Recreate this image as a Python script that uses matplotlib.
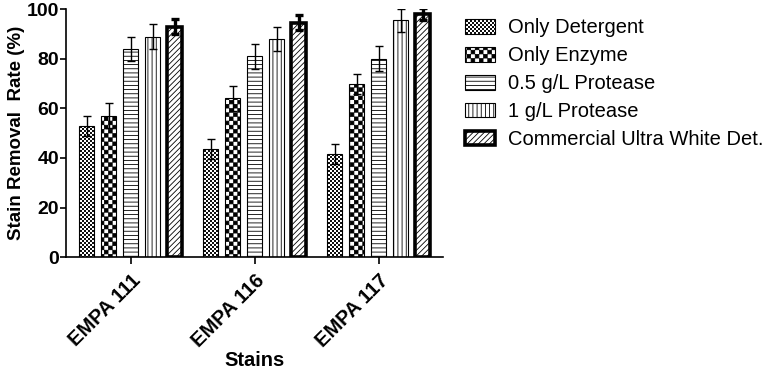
import matplotlib
matplotlib.use('Agg')
import matplotlib.pyplot as plt
import numpy as np
from matplotlib import hatch as mhatch
from matplotlib.path import Path

# ---------------- data ----------------
stains = ['EMPA 111', 'EMPA 116', 'EMPA 117']
series_names = ['Only Detergent', 'Only Enzyme', '0.5 g/L Protease',
                '1 g/L Protease', 'Commercial Ultra White Det.']
only_detergent = [53, 43.5, 41.5]
only_detergent_err = [4, 4, 4]
only_enzyme = [57, 64, 70]
only_enzyme_err = [5, 5, 4]
protease_05 = [84, 81, 80]
protease_05_err = [5, 5, 5]
protease_1 = [89, 88, 95.5]
protease_1_err = [5, 5, 4.5]
commercial = [93, 94.5, 98]
commercial_err = [3, 3, 2.5]
y_ticks = [0, 20, 40, 60, 80, 100]


# ---------------- custom checker hatch ----------------
class CheckerHatch(mhatch.HatchPatternBase):
    def __init__(self, hatch, density):
        if 'o' in hatch:
            self.n = 50
            self.m = 0.0045
        elif 'O' in hatch:
            self.n = 24
            self.m = 0.003
        else:
            self.n = 0
            self.m = 0
        self.cells = [(i, j) for i in range(self.n) for j in range(self.n)
                      if (i + j) % 2 == 0]
        self.num_vertices = len(self.cells) * 5

    def set_vertices_and_codes(self, vertices, codes):
        s = 1.0 / self.n
        m = self.m
        for k, (i, j) in enumerate(self.cells):
            x0, x1 = i * s + m, (i + 1) * s - m
            y0, y1 = j * s + m, (j + 1) * s - m
            vertices[k * 5:k * 5 + 5] = [(x0, y0), (x1, y0), (x1, y1), (x0, y1), (x0, y0)]
            codes[k * 5:k * 5 + 5] = [Path.MOVETO, Path.LINETO, Path.LINETO,
                                      Path.LINETO, Path.CLOSEPOLY]


mhatch._hatch_types[:] = [t for t in mhatch._hatch_types
                          if t not in (mhatch.SmallCircles, mhatch.LargeCircles)] + [CheckerHatch]

plt.rcParams['font.family'] = ['Liberation Sans', 'DejaVu Sans']
plt.rcParams['hatch.linewidth'] = 0.6

fig = plt.figure(figsize=(7.67, 3.71), dpi=100)
ax = fig.add_axes([0.086, 0.307, 0.4915, 0.668])

x = np.arange(len(stains))
spacing = 0.1774
width = 0.121
values = [only_detergent, only_enzyme, protease_05, protease_1, commercial]
errors = [only_detergent_err, only_enzyme_err, protease_05_err, protease_1_err, commercial_err]
hatches = ['o', 'O', '----', '||||', '//////']
edge_lw = [0.8, 0.8, 0.8, 0.8, 2.6]
err_lw = [1.0, 1.0, 1.0, 1.0, 2.4]

handles = []
for k in range(5):
    pos = x + (k - 2) * spacing
    b = ax.bar(pos, values[k], width, color='white', edgecolor='black',
               hatch=hatches[k], linewidth=edge_lw[k], label=series_names[k], zorder=2)
    handles.append(b)
    ax.errorbar(pos, values[k], yerr=errors[k], fmt='none', ecolor='black',
                elinewidth=err_lw[k], capsize=3, capthick=err_lw[k], zorder=3)

ax.set_xlim(-0.524, 2.516)
ax.set_ylim(0, 100)
ax.set_yticks(y_ticks)
ax.set_xticks(x)
ax.set_xticklabels(stains, rotation=45, ha='right', va='top', rotation_mode='anchor',
                   fontsize=14.5, fontweight='bold')
for lab in ax.get_yticklabels():
    lab.set_fontweight('bold')
    lab.set_fontsize(14)
ax.spines['top'].set_visible(False)
ax.spines['right'].set_visible(False)
ax.spines['left'].set_linewidth(1.2)
ax.spines['bottom'].set_linewidth(1.2)
ax.tick_params(axis='y', length=4, width=1.2, pad=1)
ax.tick_params(axis='x', length=5, width=1.2, pad=5)

ax.set_ylabel('Stain Removal  Rate (%)', fontsize=13.5, fontweight='bold', labelpad=1)
ax.set_xlabel('Stains', fontsize=14.5, fontweight='bold', labelpad=0)

fig.legend(handles=handles, loc='upper left', bbox_to_anchor=(0.583, 0.999),
           frameon=False, fontsize=14.5, handlelength=1.49, handleheight=0.75,
           handletextpad=0.65, labelspacing=0.44)

fig.savefig('out.png', dpi=100)
